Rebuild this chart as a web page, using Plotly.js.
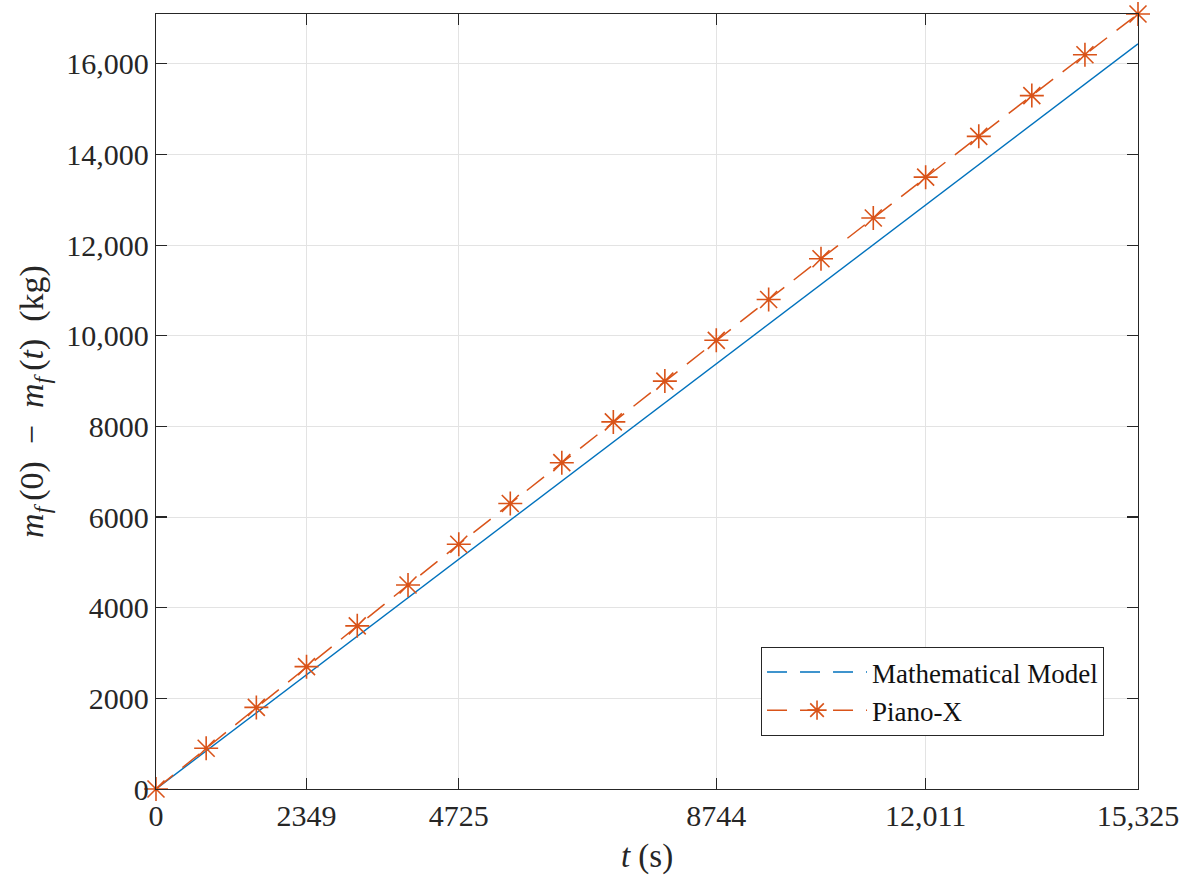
<!DOCTYPE html>
<html>
<head>
<meta charset="utf-8">
<script src="https://cdn.plot.ly/plotly-3.0.1.min.js"></script>
<style>html,body{margin:0;padding:0;background:#fff;}#chart{width:1184px;height:877px;}</style>
</head>
<body>
<div id="chart"></div>
<script>
// Mathematical model (straight line)
const modelTime = [0, 15325];
const modelMass = [0, 16440];

// Piano-X samples
const pianoTime = [0, 783, 1566, 2349, 3141, 3933, 4725, 5529, 6333, 7137, 7941, 8744, 9561, 10378, 11194, 12011, 12840, 13668, 14497, 15325];
const pianoMass = [0, 900, 1800, 2700, 3600, 4500, 5400, 6300, 7200, 8100, 9000, 9900, 10800, 11700, 12600, 13500, 14400, 15300, 16200, 17100];

const xTickVals = [0, 2349, 4725, 8744, 12011, 15325];
const xTickText = ["0", "2349", "4725", "8744", "12,011", "15,325"];
const yTickVals = [0, 2000, 4000, 6000, 8000, 10000, 12000, 14000, 16000];
const yTickText = ["0", "2000", "4000", "6000", "8000", "10,000", "12,000", "14,000", "16,000"];

const blue = "#0072BD";
const orange = "#D95319";
const FONT = "'Liberation Serif', 'DejaVu Serif', serif";

const markerStyle = {symbol: "asterisk-open", size: 20, color: orange, line: {color: orange, width: 1.6}};

const traces = [
  {x: modelTime, y: modelMass, mode: "lines", line: {color: blue, width: 1.4}, showlegend: false, hoverinfo: "skip", cliponaxis: false},
  {x: pianoTime, y: pianoMass, mode: "lines+markers", line: {color: orange, width: 1.5, dash: "22px,12px"},
   marker: markerStyle, showlegend: false, cliponaxis: false},
  // legend entries
  {x: [null], y: [null], mode: "lines", name: "Mathematical Model", line: {color: blue, width: 1.4, dash: "20px,13px"}},
  {x: [null], y: [null], mode: "lines+markers", name: "Piano-X", line: {color: orange, width: 1.5, dash: "20px,13px"},
   marker: markerStyle}
];

const axisCommon = {
  showline: true, linecolor: "#262626", linewidth: 1.2, mirror: "allticks",
  ticks: "inside", ticklen: 11, tickwidth: 1.2, tickcolor: "#262626",
  showgrid: true, gridcolor: "#e3e3e3", gridwidth: 1, zeroline: false,
  tickfont: {family: FONT, size: 30, color: "#262626"}
};

const layout = {
  width: 1184, height: 877,
  paper_bgcolor: "#fff", plot_bgcolor: "#fff",
  margin: {l: 156, r: 46, t: 14, b: 88},
  font: {family: FONT, color: "#262626"},
  xaxis: Object.assign({}, axisCommon, {
    range: [0, 15325], tickmode: "array", tickvals: xTickVals, ticktext: xTickText,
    title: {text: "<i>t</i> (s)", font: {family: FONT, size: 33, color: "#262626"}, standoff: 12}
  }),
  yaxis: Object.assign({}, axisCommon, {
    range: [0, 17100], tickmode: "array", tickvals: yTickVals, ticktext: yTickText,
    title: {text: "<i>m</i><sub><i>f</i> </sub>(0)  −  <i>m</i><sub><i>f</i> </sub>(<i>t</i>)  (kg)", font: {family: FONT, size: 34, color: "#262626"}, standoff: 12}
  }),
  legend: {
    x: 0.9654, y: 0.0684, xanchor: "right", yanchor: "bottom",
    bgcolor: "#fff", bordercolor: "#262626", borderwidth: 1,
    font: {family: FONT, size: 27, color: "#111"}, itemwidth: 100,
    tracegroupgap: 0
  },
  showlegend: true
};

Plotly.newPlot("chart", traces, layout, {displayModeBar: false, staticPlot: true});
</script>
</body>
</html>
